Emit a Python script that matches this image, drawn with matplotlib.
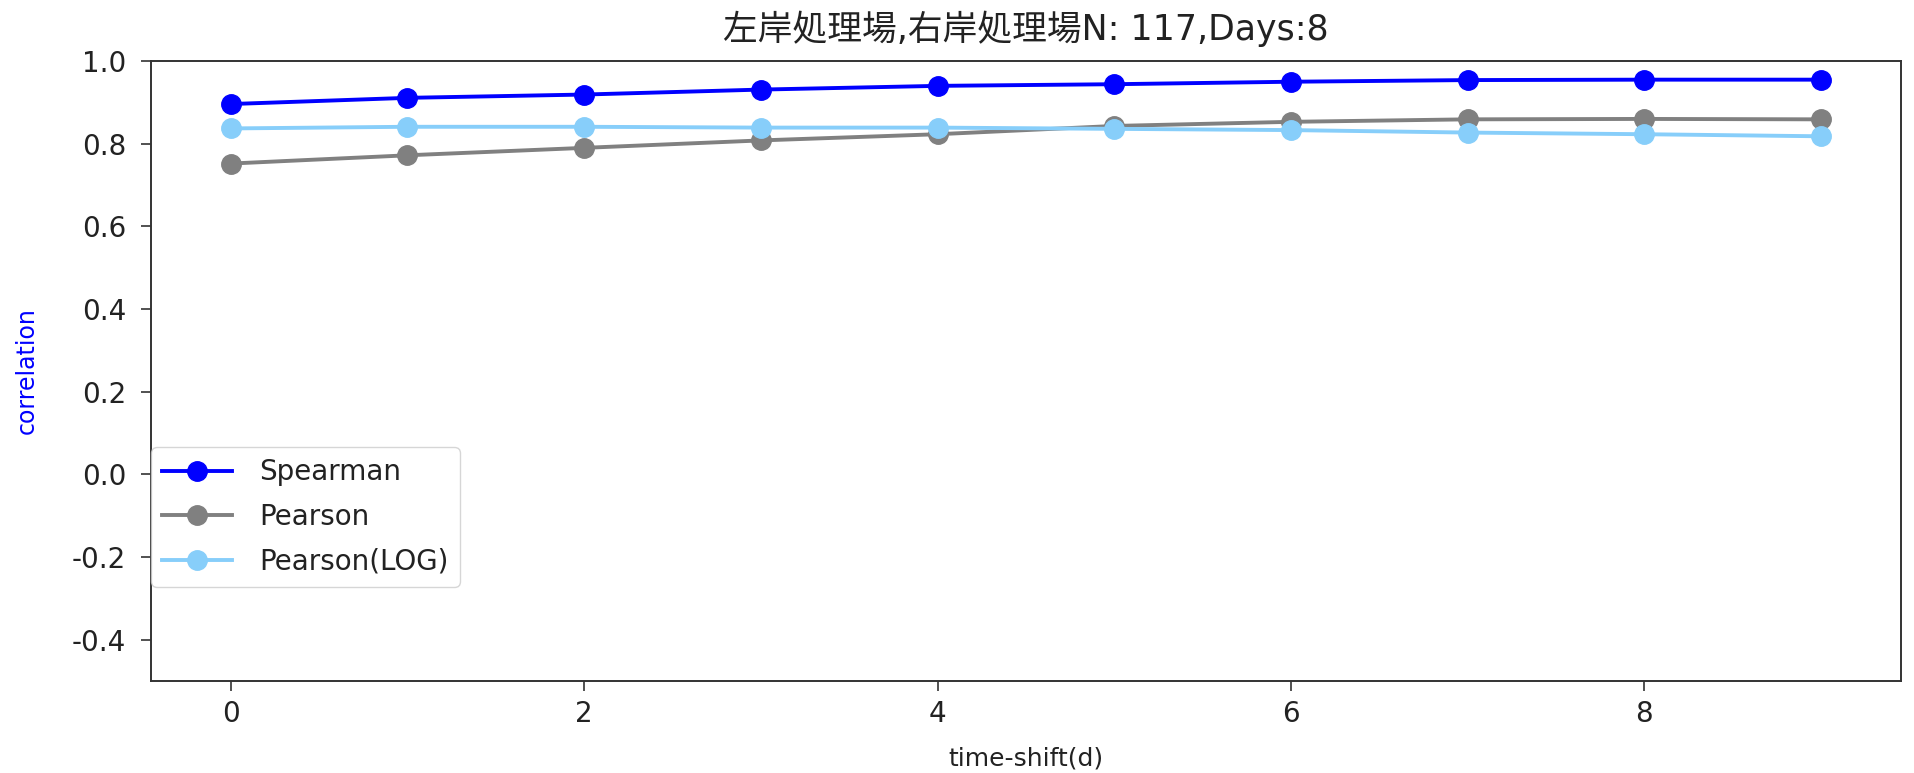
import matplotlib.pyplot as plt

plt.rcParams['font.family'] = ['DejaVu Sans', 'Noto Sans CJK JP']
plt.rcParams['axes.unicode_minus'] = False

# time shift (days) and correlation values
shift = [0, 1, 2, 3, 4, 5, 6, 7, 8, 9]
spearman = [0.896, 0.911, 0.919, 0.931, 0.940, 0.944, 0.950, 0.954, 0.955, 0.955]
pearson = [0.752, 0.772, 0.790, 0.808, 0.823, 0.843, 0.853, 0.859, 0.860, 0.859]
pearson_log = [0.837, 0.841, 0.841, 0.839, 0.839, 0.836, 0.833, 0.827, 0.823, 0.818]

title = "左岸処理場,右岸処理場N: 117,Days:8"

fig = plt.figure(figsize=(19.14, 7.73), dpi=100)
ax = fig.add_axes([0.079, 0.119, 0.914, 0.802])

ax.plot(shift, spearman, marker='o', color='blue', lw=2.8, ms=14, label='Spearman')
ax.plot(shift, pearson, marker='o', color='gray', lw=2.8, ms=14, label='Pearson')
ax.plot(shift, pearson_log, marker='o', color='lightskyblue', lw=2.8, ms=14, label='Pearson(LOG)')

ax.set_ylim(-0.5, 1.0)
ax.set_xticks([0, 2, 4, 6, 8])
ax.set_yticks([-0.4, -0.2, 0.0, 0.2, 0.4, 0.6, 0.8, 1.0])
ax.tick_params(labelsize=20, length=7, width=1.2, colors='#333333', labelcolor='#222222')
ax.tick_params(axis='y', pad=11)
ax.tick_params(axis='x', pad=7)
for s in ax.spines.values():
    s.set_linewidth(1.4)
    s.set_color('#333333')

ax.set_title(title, fontsize=25, pad=15, color='#222222')
ax.set_xlabel('time-shift(d)', fontsize=18, color='#222222')
ax.set_ylabel('correlation', fontsize=17, color='blue')
ax.xaxis.set_label_coords(0.5, -0.105)
ax.yaxis.set_label_coords(-0.064, 0.5)

ax.legend(loc='lower left', bbox_to_anchor=(0.0, 0.152), borderaxespad=0,
          fontsize=20, handlelength=2.5, handletextpad=1.0, labelspacing=0.6,
          labelcolor='#222222')

fig.savefig('out.png', dpi=100)
